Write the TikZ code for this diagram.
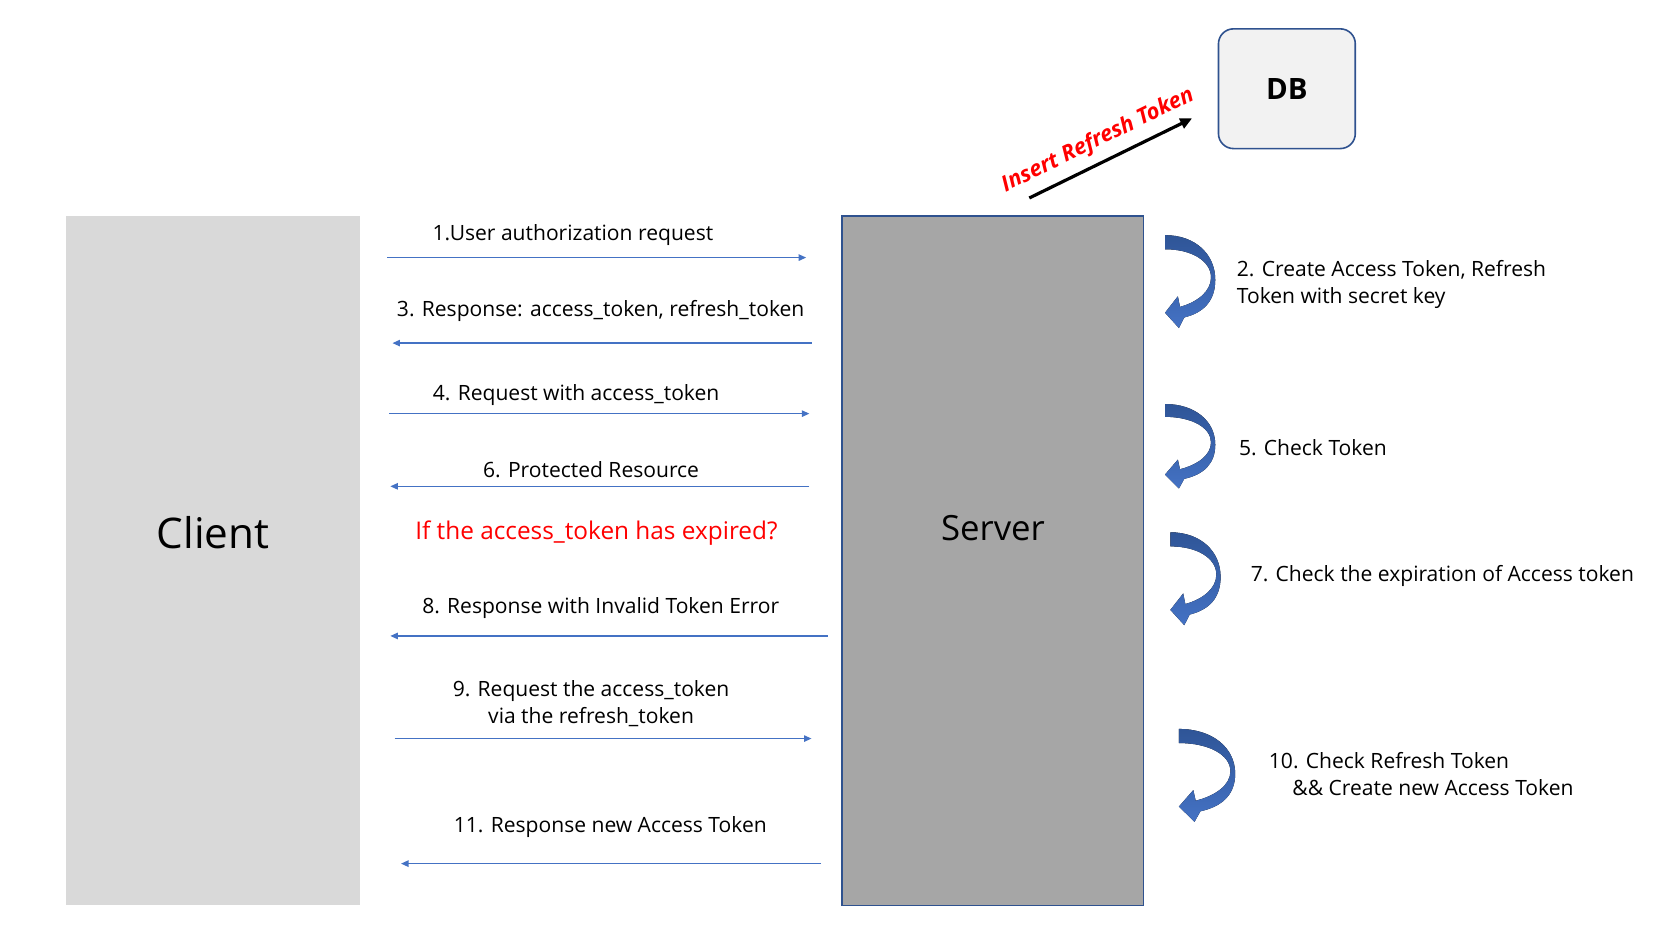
\documentclass[tikz,border=0pt]{standalone}
\usepackage{fontspec}
\setmainfont{Open Sans}
\usetikzlibrary{arrows.meta,calc}
\definecolor{msgblue}{HTML}{4472C4}
\definecolor{darkblue}{HTML}{2F5597}
\definecolor{edgeblue}{HTML}{2F528F}
\definecolor{clientgray}{HTML}{D9D9D9}
\definecolor{servergray}{HTML}{A6A6A6}
\definecolor{dbfill}{HTML}{F2F2F2}
\newcommand{\lbl}{\fontsize{19.7}{25}\selectfont}

\begin{document}
\begin{tikzpicture}[x=1pt,y=-1pt,
    msg/.style={color=msgblue,line width=1.2pt,-{Triangle[length=7pt,width=6pt]}},
    txt/.style={font=\lbl,inner sep=0pt},
    loopback/.pic={
        \fill[top color=darkblue,bottom color=msgblue] (0,0) .. controls (28,0) and (47,16) .. (47,38)
            .. controls (47,56) and (36,66) .. (18,70) -- (13,79) -- (0,66) -- (12,52) -- (14,61)
            .. controls (30,57) and (43,48) .. (43,36) .. controls (43,22) and (25,12) .. (0,12) -- cycle;
    }]
    \useasboundingbox (0,0) rectangle (1569,877.5);
    \node[fill=clientgray,minimum width=275,minimum height=645,inner sep=0pt] (client) at (199.5,524.5) {};
    \node[fill=servergray,draw=edgeblue,line width=1.5pt,minimum width=282,minimum height=645,inner sep=0pt] (server) at (929,524.5) {};
    \node[fill=dbfill,draw=edgeblue,line width=1.5pt,rounded corners=14pt,minimum width=128,minimum height=112,inner sep=0pt,font=\fontsize{27.5}{27.5}\selectfont\bfseries] (db) at (1204,83) {DB};
    \node[font=\fontsize{39.5}{39.5}\selectfont] (clientname) at ($(client)+(0,-26)$) {Client};
    \node[font=\fontsize{32.5}{32.5}\selectfont] (servername) at ($(server)+(0,-30)$) {Server};

    \draw[line width=3pt,-{Triangle[length=11pt,width=10pt]}] ($(server.north)+(34,-16)$) -- node[sloped,above=5pt,pos=0.48,text=red,font=\fontsize{20.5}{20.5}\selectfont\bfseries\itshape] (insert) {Insert Refresh Token} ($(db.south west)+(-24,-29)$);

    \node[txt] (m1) at (536,220) {1.User authorization request};
    \draw[msg] ($(client.east|-0,241)+(25,0)$) -- ($(server.west|-0,241)+(-33,0)$);
    \node[txt] (m3) at (562,291) {3. Response: access\_token, refresh\_token};
    \draw[msg] ($(server.west|-0,321)+(-28,0)$) -- ($(client.east|-0,321)+(30,0)$);
    \node[txt] (m4) at (539,370) {4. Request with access\_token};
    \draw[msg] ($(client.east|-0,387)+(27,0)$) -- ($(server.west|-0,387)+(-30,0)$);
    \node[txt] (m6) at (553,439) {6. Protected Resource};
    \draw[msg] ($(server.west|-0,455)+(-30,0)$) -- ($(client.east|-0,455)+(28,0)$);
    \node[txt,text=red,font=\fontsize{22.8}{22.8}\selectfont] (expired) at (558,499) {If the access\_token has expired?};
    \node[txt] (m8) at (562,569) {8. Response with Invalid Token Error};
    \draw[msg] ($(server.west|-0,595)+(-13,0)$) -- ($(client.east|-0,595)+(28,0)$);
    \node[txt,align=center] (m9) at (553,658) {9. Request the access\_token\\ via the refresh\_token};
    \draw[msg] ($(client.east|-0,691)+(32,0)$) -- ($(server.west|-0,691)+(-28,0)$);
    \node[txt] (m11) at (571,774) {11. Response new Access Token};
    \draw[msg] ($(server.west|-0,808)+(-19,0)$) -- ($(client.east|-0,808)+(38,0)$);

    \pic[yscale=1.1] at (1090,220) {loopback};
    \node[txt,anchor=west,align=left] (s2) at (1157,266) {2. Create Access Token, Refresh\\Token with secret key};
    \pic at (1090,378) {loopback};
    \node[txt,anchor=west] (s5) at (1159,419) {5. Check Token};
    \pic[yscale=1.1] at (1095,498) {loopback};
    \node[txt,anchor=west] (s7) at (1170,539) {7. Check the expiration of Access token};
    \pic[xscale=1.12,yscale=1.1] at (1103,682) {loopback};
    \node[txt,anchor=west,align=left] (s10) at (1187,724) {10. Check Refresh Token\\\hspace*{22pt}\&\& Create new Access Token};
\end{tikzpicture}
\end{document}
